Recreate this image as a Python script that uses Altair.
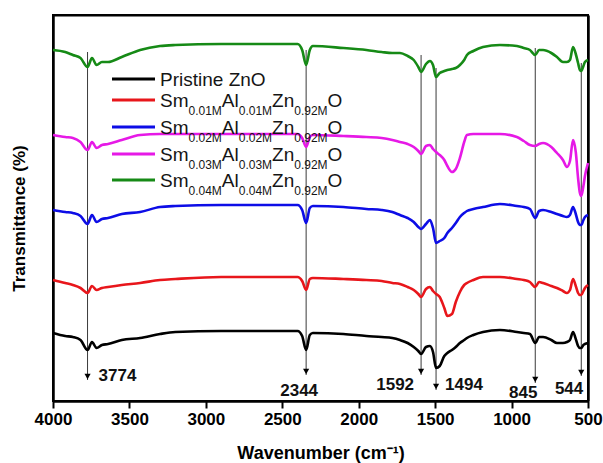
import altair as alt
import pandas as pd

# ---------------- data (arbitrary transmittance units) ----------------
wavenumber = [4000, 3920, 3870, 3820, 3774, 3745, 3715, 3680, 3640, 3550,
              3430, 3300, 3200, 2900, 2600,
              2400, 2370, 2344, 2320, 2300,
              2100, 1950, 1850, 1780, 1730,
              1680, 1640, 1610, 1592, 1560,
              1534, 1514, 1494, 1470, 1440,
              1420, 1390, 1365, 1338, 1310,
              1292, 1250, 1187, 1076, 965,
              920, 880, 845, 820, 794,
              740, 703, 664, 638, 618,
              598, 580, 565, 553, 544,
              530, 520, 500]

pristine = [68, 65, 64, 61, 51, 59, 53, 56, 57, 61,
            63, 67, 69, 70, 70,
            70, 65, 51, 66, 68,
            67, 65, 64, 63, 61,
            58, 54, 50, 47, 54,
            55, 49, 33, 35, 45,
            48, 51, 54, 58, 61,
            63, 66, 69, 71, 69,
            68, 67, 58, 64, 64,
            61, 58, 58, 59, 61,
            69, 62, 55, 53, 53,
            56, 57, 58]

sm_001 = [121, 118, 116, 113, 108, 115, 111, 113, 114, 116,
          118, 121, 122, 124, 124,
          124, 120, 111, 122, 123,
          122, 121, 120, 118, 117,
          114, 111, 107, 104, 112,
          114, 110, 107, 104, 93,
          85, 87, 99, 109, 116,
          118, 121, 124, 124, 122,
          121, 119, 114, 119, 118,
          115, 113, 110, 108, 111,
          122, 115, 108, 106, 106,
          110, 113, 116]

sm_002 = [191, 189, 188, 185, 177, 186, 179, 182, 183, 187,
          189, 194, 195, 196, 196,
          196, 191, 178, 193, 195,
          194, 192, 191, 189, 186,
          183, 179, 174, 172, 177,
          181, 173, 158, 160, 163,
          168, 173, 178, 184, 188,
          190, 192, 194, 197, 195,
          194, 192, 183, 190, 191,
          189, 187, 185, 184, 186,
          194, 187, 179, 176, 176,
          181, 184, 186]

sm_003 = [266, 264, 263, 259, 251, 259, 253, 256, 257, 261,
          266, 267, 267, 267, 267,
          267, 263, 254, 264, 266,
          265, 264, 263, 261, 259,
          257, 254, 250, 247, 255,
          256, 252, 249, 246, 241,
          235, 229, 232, 243, 259,
          266, 267, 267, 267, 264,
          260, 256, 255, 257, 258,
          254, 248, 241, 234, 240,
          261, 249, 223, 208, 205,
          215, 225, 238]

sm_004 = [351, 349, 346, 343, 334, 343, 336, 339, 339, 344,
          351, 355, 356, 357, 357,
          357, 351, 336, 351, 355,
          353, 351, 349, 348, 348,
          345, 341, 334, 329, 337,
          340, 336, 324, 328, 330,
          331, 332, 333, 336, 341,
          346, 350, 354, 356, 355,
          353, 351, 346, 351, 351,
          348, 344, 339, 339, 341,
          354, 347, 338, 331, 330,
          335, 339, 341]

series_keys = ["Pristine ZnO", "Sm0.01", "Sm0.02", "Sm0.03", "Sm0.04"]
series_values = [pristine, sm_001, sm_002, sm_003, sm_004]
series_colors = ["#000000", "#e8161b", "#0d0de6", "#e619e6", "#168a16"]
doping = ["0.01M", "0.02M", "0.03M", "0.04M"]
zn_sub = "0.92M"

peak_wn = [3774, 2344, 1592, 1494, 845, 544]
peak_labels = ["3774", "2344", "1592", "1494", "845", "544"]
peak_top = [349, 351, 346, 333, 353, 338]
peak_tip = [21, 26, 26, 11, 18, 25]
label_level = [25, 10, 16, 16, 8, 12]

x_ticks = [4000, 3500, 3000, 2500, 2000, 1500, 1000, 500]

# ---------------- layout / style ----------------
W, H = 535, 386
X_DOM = [4000, 500]
Y_DOM = [0, 386]
FONT = "Liberation Sans"
label_style = [("left", 11), ("center", -7), ("right", -7), ("left", 9), ("center", -12), ("right", 2)]


def px_to_wn(px):
    return X_DOM[0] + (X_DOM[1] - X_DOM[0]) * px / W


def py_to_val(py):
    return Y_DOM[1] - (Y_DOM[1] - Y_DOM[0]) * py / H


rows = []
for key, vals in zip(series_keys, series_values):
    for w, v in zip(wavenumber, vals):
        rows.append({"wn": w, "t": v, "series": key})
spec_df = pd.DataFrame(rows)

xs = alt.Scale(domain=X_DOM, nice=False, zero=False)
ys = alt.Scale(domain=Y_DOM, nice=False, zero=False)
cs = alt.Scale(domain=series_keys, range=series_colors)

x_axis = alt.Axis(values=x_ticks, format="d", ticks=True, tickSize=7, tickWidth=2,
                  tickColor="black", grid=False, domainWidth=2.5,
                  domainColor="black", labelFontSize=17, labelFontWeight="bold",
                  labelColor="black", labelPadding=3, labelFont=FONT, labelFlush=False,
                  labelOverlap=False,
                  title="Wavenumber (cm⁻¹)", titleFontSize=18, titleFontWeight="bold",
                  titleFont=FONT, titleColor="black", titleY=52, titleBaseline="middle")
y_axis = alt.Axis(labels=False, ticks=False, grid=False, domainWidth=2.5, domainColor="black",
                  title="Transmittance (%)", titleFontSize=17, titleFontWeight="bold",
                  titleFont=FONT, titleColor="black", titleX=-34, titleY=203,
                  titleAngle=270, titleAlign="center", titleBaseline="middle")
top_axis = alt.Axis(orient="top", labels=False, ticks=False, grid=False, domainWidth=2,
                    domainColor="black", title=None)
right_axis = alt.Axis(orient="right", labels=False, ticks=False, grid=False, domainWidth=2.5,
                      domainColor="black", title=None)


def X(field, axis=None):
    return alt.X(field, scale=xs, axis=axis)


def Y(field, axis=None):
    return alt.Y(field, scale=ys, axis=axis)


# annotation lines and arrows
peak_df = pd.DataFrame({"wn": peak_wn, "top": peak_top, "tip": peak_tip,
                        "label": peak_labels, "ly": label_level})
guide = alt.Chart(peak_df).mark_rule(color="#3a3a3a", strokeWidth=1).encode(
    x=X("wn:Q", x_axis), y=Y("top:Q", y_axis), y2="tip:Q")

# frame: top and right edges as axis domains
frame = alt.Chart(peak_df).mark_point(opacity=0).encode(
    x=X("wn:Q", top_axis), y=Y("tip:Q", right_axis))

arrows = alt.Chart(peak_df).mark_point(shape="triangle-down", filled=True, size=38,
                                       color="black", opacity=1, yOffset=-3.5).encode(
    x=X("wn:Q"), y=Y("tip:Q"))

label_layers = []
for i, (al, dx) in enumerate(label_style):
    label_layers.append(
        alt.Chart(peak_df.iloc[[i]]).mark_text(align=al, dx=dx, baseline="middle",
                                               fontSize=17, fontWeight="bold", font=FONT,
                                               color="#111111").encode(
            x=X("wn:Q"), y=Y("ly:Q"), text="label:N"))

spectra = alt.Chart(spec_df).mark_line(strokeWidth=2.6, interpolate="monotone").encode(
    x=X("wn:Q"),
    y=Y("t:Q"),
    color=alt.Color("series:N", scale=cs, legend=None),
    detail="series:N",
)

# ---------------- hand-built legend (for subscripts) ----------------
char_w = {"S": .667, "m": .833, "A": .667, "l": .222, "Z": .611, "n": .556, "O": .778,
          "0": .556, "1": .556, "2": .556, "3": .556, "4": .556, "9": .556, ".": .278,
          "M": .833, "P": .667, "r": .333, "i": .222, "s": .5, "t": .278, "e": .556, " ": .278}
MAIN, SUB = 19, 12
row_py = [64, 85, 112, 139, 165]
sym_x0, sym_x1, text_x0 = 59, 102, 107


def width(s, fs):
    return sum(char_w.get(c, .556) for c in s) * fs


sym_rows, seg_rows = [], []
for i, key in enumerate(series_keys):
    py = row_py[i]
    sym_rows.append({"series": key, "x0": px_to_wn(sym_x0), "x1": px_to_wn(sym_x1),
                     "y": py_to_val(py)})
    if i == 0:
        segs = [("Pristine ZnO", False)]
    else:
        d = doping[i - 1]
        segs = [("Sm", False), (d, True), ("Al", False), (d, True), ("Zn", False),
                (zn_sub, True), ("O", False)]
    x = text_x0
    for txt, sub in segs:
        fs = SUB if sub else MAIN
        seg_rows.append({"txt": txt, "x": px_to_wn(x),
                         "y": py_to_val(py + (15 if sub else 7)), "sub": sub})
        x += width(txt, fs)

sym_df = pd.DataFrame(sym_rows)
seg_df = pd.DataFrame(seg_rows)

leg_sym = alt.Chart(sym_df).mark_rule(strokeWidth=3).encode(
    x=X("x0:Q"), x2="x1:Q", y=Y("y:Q"),
    color=alt.Color("series:N", scale=cs, legend=None))
leg_main = alt.Chart(seg_df[~seg_df["sub"]]).mark_text(
    align="left", baseline="alphabetic", fontSize=MAIN, font=FONT, color="#151515").encode(
    x=X("x:Q"), y=Y("y:Q"), text="txt:N")
leg_sub = alt.Chart(seg_df[seg_df["sub"]]).mark_text(
    align="left", baseline="alphabetic", fontSize=SUB, font=FONT, color="#151515").encode(
    x=X("x:Q"), y=Y("y:Q"), text="txt:N")

chart = alt.layer(guide, frame, arrows, *label_layers, spectra,
                  leg_sym, leg_main, leg_sub).resolve_axis(
    x="independent", y="independent"
).properties(
    width=W, height=H,
    autosize=alt.AutoSizeParams(type="none"),
    padding={"left": 53, "top": 15, "right": 15, "bottom": 62},
).configure(background="white", view=alt.ViewConfig(stroke="black", strokeWidth=2))

chart.save("out.html", embed_options={"renderer": "svg", "actions": False})
